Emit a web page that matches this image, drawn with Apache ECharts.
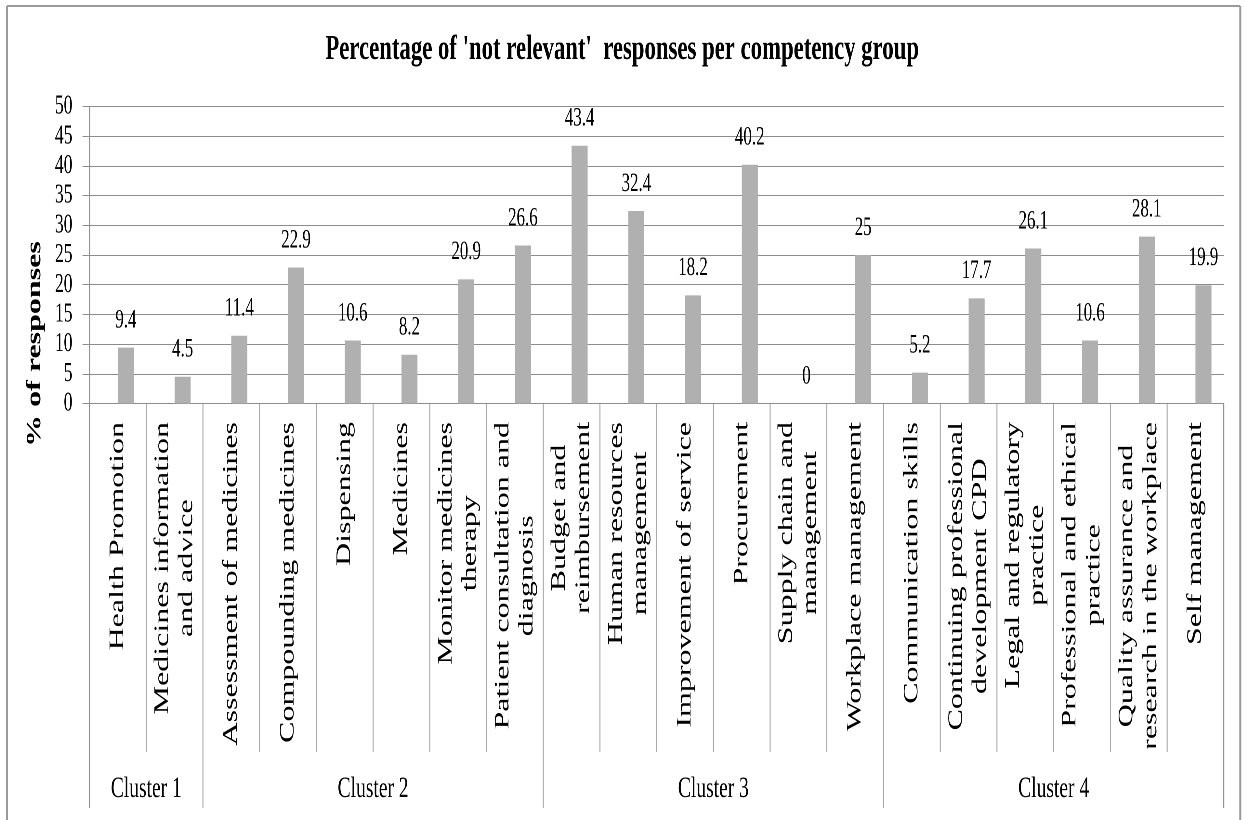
<!DOCTYPE html>
<html>
<head>
<meta charset="utf-8">
<title>Percentage of 'not relevant' responses per competency group</title>
<script src="https://cdn.jsdelivr.net/npm/echarts@6/dist/echarts.min.js"></script>
<style>
  html, body { margin: 0; padding: 0; overflow: hidden; background: #fff; }
  #wrap { width: 1244px; height: 820px; overflow: hidden; position: relative; }
  #chart { position: absolute; left: 0; top: 0; height: 820px; transform-origin: 0 0; }
</style>
</head>
<body>
<div id="wrap"><div id="chart"></div></div>
<script>
// ---- data ----
const categories = [
  'Health Promotion',
  'Medicines information\nand advice',
  'Assessment of medicines',
  'Compounding medicines',
  'Dispensing',
  'Medicines',
  'Monitor medicines\ntherapy',
  'Patient consultation and\ndiagnosis',
  'Budget and\nreimbursement',
  'Human resources\nmanagement',
  'Improvement of service',
  'Procurement',
  'Supply chain and\nmanagement',
  'Workplace management',
  'Communication skills',
  'Continuing professional\ndevelopment CPD',
  'Legal and regulatory\npractice',
  'Professional and ethical\npractice',
  'Quality assurance and\nresearch in the workplace',
  'Self management'
];
const notRelevantPct = [9.4, 4.5, 11.4, 22.9, 10.6, 8.2, 20.9, 26.6, 43.4, 32.4,
                        18.2, 40.2, 0, 25, 5.2, 17.7, 26.1, 10.6, 28.1, 19.9];
const clusterNames = ['Cluster 1', 'Cluster 2', 'Cluster 3', 'Cluster 4'];
const clusterSizes = [2, 6, 6, 6];
const yMin = 0, yMax = 50, yStep = 5;
const titleText = "Percentage of 'not relevant'  responses per competency group";
const yAxisTitle = '% of responses';

// ---- layout ----
// The chart is laid out on a wider surface and squeezed horizontally,
// which gives the narrow, tall serif lettering.
const SX = 0.65;
const W = 1244 / SX, H = 820;
const X = x => x / SX;               // page x -> surface x
const FONT = '"Liberation Serif", "DejaVu Serif", serif';
const GRID_COLOR = '#8c8c8c';
const DIV_COLOR = '#a8a8a8';
const BAR_COLOR = '#b0b0b0';

const PLOT = { left: 89.5, right: 1223.5, top: 106.5, bottom: 403.5 };
const INNER_DIV_BOTTOM = 752;
const CLUSTER_DIV_BOTTOM = 808;
const CAT_LABEL_TOP = 422;
const CAT_FONT = 32;
const CAT_LINE_PITCH = 24;           // page px between wrapped lines

const el = document.getElementById('chart');
el.style.width = W + 'px';
el.style.transform = 'scaleX(' + SX + ')';

const chart = echarts.init(el, null, { renderer: 'canvas', width: W, height: H, devicePixelRatio: 2 });

const step = (PLOT.right - PLOT.left) / categories.length;
const measureCtx = document.createElement('canvas').getContext('2d');
measureCtx.font = CAT_FONT + 'px ' + FONT;

const graphics = [];

// frame around the whole figure
const frameColor = '#9a9a9a';
graphics.push(
  { type: 'line', shape: { x1: X(7), y1: 6, x2: X(1240), y2: 6 }, style: { stroke: frameColor, lineWidth: 2 } },
  { type: 'line', shape: { x1: X(7), y1: 6, x2: X(7), y2: 830 }, style: { stroke: frameColor, lineWidth: 2 / SX } },
  { type: 'line', shape: { x1: X(1240), y1: 6, x2: X(1240), y2: 830 }, style: { stroke: frameColor, lineWidth: 2 / SX } }
);

// category dividers below the axis; cluster boundaries run deeper
const clusterEdges = [0];
clusterSizes.forEach(n => clusterEdges.push(clusterEdges[clusterEdges.length - 1] + n));
for (let i = 0; i <= categories.length; i++) {
  const x = PLOT.left + i * step;
  const isCluster = clusterEdges.indexOf(i) >= 0;
  graphics.push({
    type: 'line',
    shape: { x1: X(x), y1: PLOT.bottom, x2: X(x), y2: isCluster ? CLUSTER_DIV_BOTTOM : INNER_DIV_BOTTOM },
    style: { stroke: isCluster && (i === 0 || i === categories.length) ? GRID_COLOR : DIV_COLOR, lineWidth: 1 / SX }
  });
}

// rotated category labels, top-aligned, wrapped lines centred on each other
categories.forEach((name, i) => {
  const lines = name.split('\n');
  const maxW = Math.max.apply(null, lines.map(l => measureCtx.measureText(l).width));
  const cx = PLOT.left + (i + 0.5) * step;
  const cy = CAT_LABEL_TOP + maxW / 2;
  lines.forEach((line, k) => {
    const off = (k - (lines.length - 1) / 2) * CAT_LINE_PITCH;
    graphics.push({
      type: 'text',
      x: X(cx + off), y: cy,
      rotation: Math.PI / 2,
      style: { text: line, fontSize: CAT_FONT, fontFamily: FONT, fill: '#000', align: 'center', verticalAlign: 'middle' }
    });
  });
});

// cluster names
clusterNames.forEach((name, c) => {
  const cx = PLOT.left + (clusterEdges[c] + clusterEdges[c + 1]) / 2 * step;
  graphics.push({
    type: 'text', x: X(cx), y: 789,
    style: { text: name, fontSize: 30, fontFamily: FONT, fill: '#000', align: 'center', verticalAlign: 'middle' }
  });
});

// y-axis title
graphics.push({
  type: 'text', x: X(35), y: 344, rotation: Math.PI / 2,
  style: { text: yAxisTitle, fontSize: 32, fontWeight: 'bold', fontFamily: FONT, fill: '#000', align: 'center', verticalAlign: 'middle' }
});

// chart title
graphics.push({
  type: 'text', x: X(622), y: 50,
  style: { text: titleText, fontSize: 35, fontWeight: 'bold', fontFamily: FONT, fill: '#000', align: 'center', verticalAlign: 'middle' }
});

chart.setOption({
  animation: false,
  backgroundColor: '#fff',
  textStyle: { fontFamily: FONT },
  grid: {
    left: X(PLOT.left), right: W - X(PLOT.right),
    top: PLOT.top, bottom: H - PLOT.bottom,
    containLabel: false
  },
  xAxis: {
    type: 'category',
    data: categories,
    axisLine: { show: true, lineStyle: { color: GRID_COLOR, width: 1 } },
    axisTick: { show: false },
    axisLabel: { show: false },
    splitLine: { show: false }
  },
  yAxis: {
    type: 'value',
    min: yMin, max: yMax, interval: yStep,
    axisLine: { show: true, lineStyle: { color: GRID_COLOR, width: 1 / SX } },
    axisTick: { show: true, length: X(7), lineStyle: { color: GRID_COLOR, width: 1 } },
    axisLabel: { fontFamily: FONT, fontSize: 27, color: '#000', margin: X(17) },
    splitLine: { show: true, lineStyle: { color: GRID_COLOR, width: 1 } }
  },
  series: [
    {
      // empty companion series: the bars sit in the right half of each slot
      type: 'bar', name: 'companion',
      data: categories.map(() => null),
      barWidth: X(16), barGap: '0%',
      silent: true
    },
    {
      type: 'bar', name: 'Not relevant (%)',
      data: notRelevantPct,
      barWidth: X(16), barGap: '0%',
      itemStyle: { color: BAR_COLOR },
      label: { show: true, position: 'top', distance: 14, fontFamily: FONT, fontSize: 26, color: '#000' }
    }
  ],
  graphic: { elements: graphics }
});
</script>
</body>
</html>
